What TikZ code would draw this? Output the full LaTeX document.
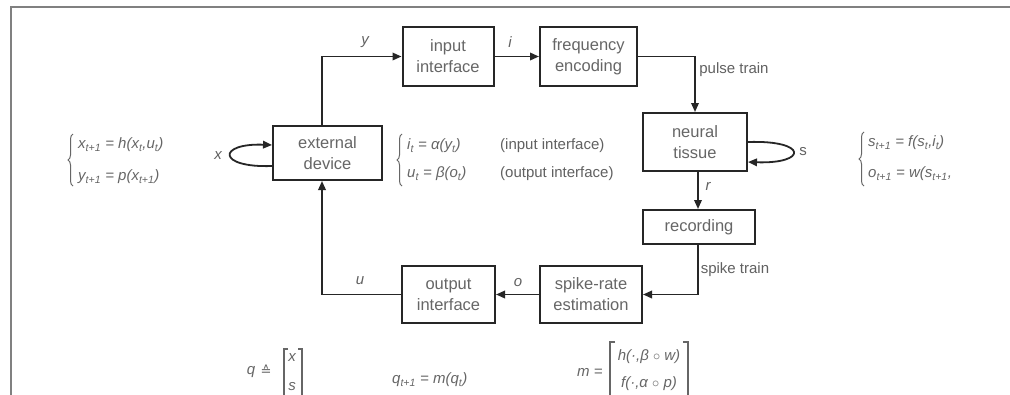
\documentclass[tikz,border=0pt]{standalone}
\usepackage{fontspec}
\setmainfont{Liberation Sans}
\newfontfamily\djv{DejaVu Sans}
\usetikzlibrary{arrows.meta,decorations.pathreplacing,calc}
\newcommand{\sbs}[1]{\textsubscript{#1}}
\begin{document}
\begin{tikzpicture}[x=1pt,y=-1pt,
  blk/.style={draw=black!85,line width=2pt,fill=white,text=black!60,font=\fontsize{16.5}{21}\selectfont,align=center,inner sep=0pt},
  conn/.style={line width=1.8pt,draw=black!85},
  arr/.style={conn,-{Triangle[length=9pt,width=7.5pt]}},
  lbl/.style={text=black!62,font=\fontsize{15}{18}\selectfont,inner sep=0pt},
  eq/.style={text=black!60,font=\fontsize{15}{18}\selectfont\itshape,inner sep=0pt,anchor=west},
  brc/.style={draw=black!60,line width=1pt,decorate,decoration={brace,amplitude=5pt}},
  bkt/.style={draw=black!60,line width=1.2pt},
  frame/.style={draw=black!50,line width=1.6pt}]
\clip (0,0) rectangle (1010,394);
\fill[white] (0,0) rectangle (1010,394);
% frame
\draw[frame] (11,400) -- (11,7) -- (1012,7);
% blocks
\node[blk,minimum width=109pt,minimum height=54pt] (ext) at (327.5,153) {external\\device};
\node[blk,minimum width=91pt,minimum height=59pt] (inif) at (448,56.5) {input\\interface};
\node[blk,minimum width=97pt,minimum height=59pt] (freq) at (588.5,56.5) {frequency\\encoding};
\node[blk,minimum width=104pt,minimum height=58pt] (neur) at (695,142) {neural\\tissue};
\node[blk,minimum width=112pt,minimum height=34pt] (rec) at (699,227) {recording};
\node[blk,minimum width=102pt,minimum height=57pt] (sre) at (591,294.5) {spike-rate\\estimation};
\node[blk,minimum width=93pt,minimum height=57pt] (outif) at (448.5,294.5) {output\\interface};
% connectors
\draw[arr] ([xshift=-5.5pt]ext.north) |- (inif.west);
\draw[arr] (inif.east) -- (freq.west);
\draw[arr] (freq.east) -| (neur.north);
\draw[arr] ([xshift=3pt]neur.south) -- ([xshift=-1pt]rec.north);
\draw[arr] ([xshift=-1pt]rec.south) |- (sre.east);
\draw[arr] (sre.west) -- (outif.east);
\draw[arr] (outif.west) -| ([xshift=-5.5pt]ext.south);
\draw[arr] ([yshift=-13pt]ext.west) .. controls +(-55,2) and +(-55,-2) .. ([yshift=8pt]ext.west);
\draw[arr] (neur.east) .. controls +(60,-2) and +(60,2) .. ([yshift=-20pt]neur.east);
% labels
\node[lbl,font=\fontsize{15}{18}\selectfont\itshape] (ly) at (365,42) {y};
\node[lbl,font=\fontsize{15}{18}\selectfont\itshape] (li) at (510,42) {i};
\node[lbl] (lpulse) at (734,70) {pulse train};
\node[lbl,font=\fontsize{15}{18}\selectfont\itshape] (lx) at (218,156) {x};
\node[lbl] (ls) at (803,152) {s};
\node[lbl,font=\fontsize{15}{18}\selectfont\itshape] (lr) at (708,186) {r};
\node[lbl] (lspike) at (735,270) {spike train};
\node[lbl,font=\fontsize{15}{18}\selectfont\itshape] (lu) at (360,281) {u};
\node[lbl,font=\fontsize{15}{18}\selectfont\itshape] (lo) at (518,283) {o};
% left equations
\draw[brc] (73,186) -- (73,134);
\node[eq] (eqx) at (78,145) {x\sbs{t+1} = h(x\sbs{t},u\sbs{t})};
\node[eq] (eqy) at (78,177) {y\sbs{t+1} = p(x\sbs{t+1})};
% middle equations
\draw[brc] (402,186) -- (402,134);
\node[eq] (eqi) at (407,146) {i\sbs{t} = α(y\sbs{t})};
\node[eq] (equ) at (407,174) {u\sbs{t} = β(o\sbs{t})};
\node[lbl,anchor=west] (tin) at (500,146) {(input interface)};
\node[lbl,anchor=west] (tout) at (500,174) {(output interface)};
% right equations (cut off)
\begin{scope}
\clip (850,120) rectangle (950,200);
\draw[brc] (864,186) -- (864,132);
\node[eq] (eqs) at (868,143) {s\sbs{t+1} = f(s\sbs{t},i\sbs{t})};
\node[eq] (eqo) at (868,174) {o\sbs{t+1} = w(s\sbs{t+1},i\sbs{t+1})};
\end{scope}
% bottom: q definition
\node[eq,anchor=center] (qd) at (251,372) {q};
\node[eq,anchor=center,font=\fontsize{13}{15}\selectfont\djv] (qeq) at (266,370) {≙};
\draw[bkt] (288,349) -- (284,349) -- (284,400);
\draw[bkt] (298,349) -- (302,349) -- (302,400);
\node[eq,anchor=center] (qx) at (292,358) {x};
\node[eq,anchor=center] (qs) at (292,387) {s};
% bottom: update
\node[eq] (qup) at (392,380) {q\sbs{t+1} = m(q\sbs{t})};
% bottom: m definition
\node[eq] (mdef) at (577,372) {m =};
\draw[bkt] (615,342) -- (610,342) -- (610,400);
\draw[bkt] (683,342) -- (688,342) -- (688,400);
\node[eq,anchor=center] (mh) at (649,357) {h(·,β \ensuremath{\circ} w)};
\node[eq,anchor=center] (mf) at (649,384) {f(·,α \ensuremath{\circ} p)};
\end{tikzpicture}
\end{document}
